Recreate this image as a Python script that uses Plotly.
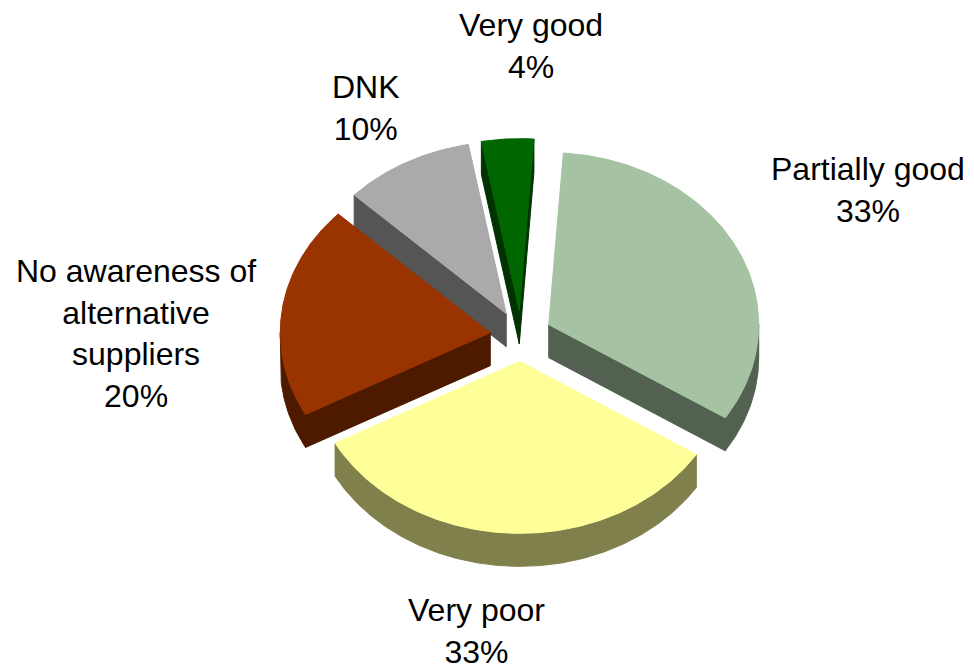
import numpy as np
import plotly.graph_objects as go

# Survey answers, listed clockwise starting near 12 o'clock
categories = ["Partially good", "Very poor", "No awareness of alternative suppliers", "DNK", "Very good"]
shares = [33, 33, 20, 10, 4]
display_names = ["Partially good", "Very poor", "No awareness of<br>alternative<br>suppliers", "DNK", "Very good"]

# Face colours (top) and the darker shade used for the extruded sides
top_colors = ["#A5C3A3", "#FFFF99", "#993300", "#AAAAAA", "#006600"]
side_colors = ["#526150", "#80804D", "#4D1A00", "#555555", "#003300"]

# Oblique 3-D pie geometry (in screen pixels; y grows downward)
CX, CY = 521.0, 336.0      # centre of the unexploded top ellipse
RX, RY = 210.0, 172.0      # ellipse radii of the top face
DEPTH = 33.0               # visible thickness of the pie
EXPLODE = 31.0             # how far every slice is pulled out
START = 4.0                # first slice edge, degrees clockwise from 12 o'clock

# Label block centres
label_pos = [(868, 190), (476, 631), (136, 333), (366, 108), (531, 46)]


def rim(px, py, deg):
    t = np.radians(deg)
    return px + RX * np.sin(t), py - RY * np.cos(t)


def poly(xs, ys, color, name=None):
    return go.Scatter(
        x=list(xs) + [xs[0]], y=list(ys) + [ys[0]],
        mode="lines", fill="toself", fillcolor=color,
        line=dict(color=color, width=1),
        hoverinfo="text" if name else "skip",
        hovertext=name, showlegend=False,
    )


total = float(sum(shares))
edges = START + 360.0 * np.concatenate([[0], np.cumsum(shares)]) / total

slices = []
for i, v in enumerate(shares):
    a0, a1 = edges[i], edges[i + 1]
    mid = np.radians((a0 + a1) / 2)
    px = CX + EXPLODE * np.sin(mid)
    py = CY - EXPLODE * (RY / RX) * np.cos(mid)
    slices.append((np.cos(mid), i, a0, a1, px, py))

# paint from the back of the pie to the front
slices.sort(key=lambda s: -s[0])

fig = go.Figure()
for _, i, a0, a1, px, py in slices:
    side = side_colors[i]
    # radial cut faces that turn towards the viewer
    for ang, visible in ((a0, np.sin(np.radians(a0)) < 0), (a1, np.sin(np.radians(a1)) > 0)):
        if visible:
            rx_, ry_ = rim(px, py, ang)
            fig.add_trace(poly([px, rx_, rx_, px], [py, ry_, ry_ + DEPTH, py + DEPTH], side))
    # curved outer wall on the front half of the ellipse
    lo, hi = max(a0, 90.0), min(a1, 270.0)
    if hi > lo:
        th = np.linspace(lo, hi, max(int((hi - lo) * 2), 2))
        tx, ty = rim(px, py, th)
        fig.add_trace(poly(np.concatenate([tx, tx[::-1]]),
                           np.concatenate([ty, (ty + DEPTH)[::-1]]), side))
    # top face
    th = np.linspace(a0, a1, max(int((a1 - a0) * 2), 2))
    tx, ty = rim(px, py, th)
    fig.add_trace(poly(np.concatenate([[px], tx]), np.concatenate([[py], ty]),
                       top_colors[i], f"{categories[i]}: {shares[i]}%"))

for i, (lx, ly) in enumerate(label_pos):
    fig.add_annotation(
        x=lx, y=ly, xref="x", yref="y", showarrow=False,
        text=f"{display_names[i]}<br>{shares[i]}%", align="center",
        xanchor="center", yanchor="middle",
        font=dict(family="Liberation Sans, Arial, sans-serif", size=32, color="black"),
    )

fig.update_layout(
    width=974, height=672,
    margin=dict(l=0, r=0, t=0, b=0),
    paper_bgcolor="white", plot_bgcolor="white",
    showlegend=False,
    xaxis=dict(range=[0, 974], visible=False, fixedrange=True),
    yaxis=dict(range=[672, 0], visible=False, fixedrange=True),
)

fig.write_html("out.html")
